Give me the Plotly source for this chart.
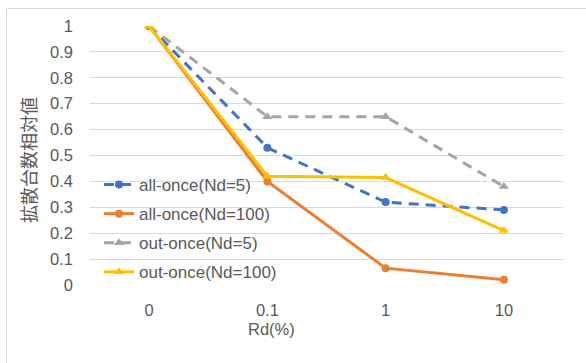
import plotly.graph_objects as go

# Rd(%) categories and relative diffusion counts per scheme
rd_labels = ["0", "0.1", "1", "10"]
all_once_nd5 = [1.0, 0.53, 0.32, 0.29]
all_once_nd100 = [1.0, 0.40, 0.065, 0.02]
out_once_nd5 = [1.0, 0.65, 0.65, 0.38]
out_once_nd100 = [1.0, 0.42, 0.415, 0.21]

y_ticks = [0, 0.1, 0.2, 0.3, 0.4, 0.5, 0.6, 0.7, 0.8, 0.9, 1]
y_tick_text = ["0", "0.1", "0.2", "0.3", "0.4", "0.5", "0.6", "0.7", "0.8", "0.9", "1"]

series = [
    ("all-once(Nd=5)", all_once_nd5, "#4472C4", "10px,7px", "circle", 8),
    ("all-once(Nd=100)", all_once_nd100, "#ED7D31", "solid", "circle", 8),
    ("out-once(Nd=5)", out_once_nd5, "#A5A5A5", "10px,7px", "triangle-up", 9),
    ("out-once(Nd=100)", out_once_nd100, "#FFC000", "solid", "triangle-up", 9),
]

TEXT = "#595959"
GRID = "#D9D9D9"
FONT = "Liberation Sans, Arial, sans-serif"

fig = go.Figure()
for i, (name, vals, color, dash, sym, size) in enumerate(series):
    fig.add_trace(go.Scatter(
        x=rd_labels, y=vals, name=name, mode="lines+markers",
        line=dict(color=color, width=3, dash=dash),
        marker=dict(symbol=sym, size=size, color=color),
        legendgroup=f"g{i}",
    ))

W, H = 586, 363
L, R, T, B = 90, 23, 26, 78
pw, ph = W - L - R, H - T - B


def px_x(x):
    return (x - L) / pw


def px_y(y):
    return (H - B - y) / ph


fig.update_layout(
    width=W, height=H, autosize=False,
    margin=dict(l=L, r=R, t=T, b=B),
    paper_bgcolor="white", plot_bgcolor="white",
    font=dict(family=FONT, size=16, color=TEXT),
    showlegend=True,
    legend=dict(
        x=px_x(99), y=px_y(167), xanchor="left", yanchor="top",
        bgcolor="rgba(0,0,0,0)", traceorder="grouped", tracegroupgap=4,
        font=dict(family=FONT, size=17, color=TEXT),
    ),
    xaxis=dict(
        type="category", range=[-0.5, 3.5], showgrid=False, zeroline=False,
        showline=False, ticks="", ticklabelstandoff=13,
        tickfont=dict(family=FONT, size=16.5, color=TEXT),
    ),
    yaxis=dict(
        range=[0, 1], tickvals=y_ticks, ticktext=y_tick_text,
        showgrid=True, gridcolor=GRID, gridwidth=1, zeroline=False,
        showline=False, ticks="", ticklabelstandoff=16,
        tickfont=dict(family=FONT, size=16.5, color=TEXT),
    ),
    annotations=[
        dict(text="Rd(%)", xref="paper", yref="paper", x=px_x(271), y=px_y(329),
             showarrow=False, xanchor="center", yanchor="middle",
             font=dict(family=FONT, size=16.5, color=TEXT)),
        dict(text="拡散台数相対値", xref="paper", yref="paper", x=px_x(28), y=px_y(160),
             showarrow=False, xanchor="center", yanchor="middle", textangle=-90,
             font=dict(family="Noto Sans CJK JP", size=18, color=TEXT)),
    ],
    shapes=[
        dict(type="rect", xref="paper", yref="paper", layer="below",
             x0=px_x(6.5), y0=px_y(H + 5), x1=px_x(W + 5), y1=px_y(8.5),
             line=dict(color=GRID, width=1), fillcolor="rgba(0,0,0,0)"),
    ],
)

fig.write_html("out.html")
